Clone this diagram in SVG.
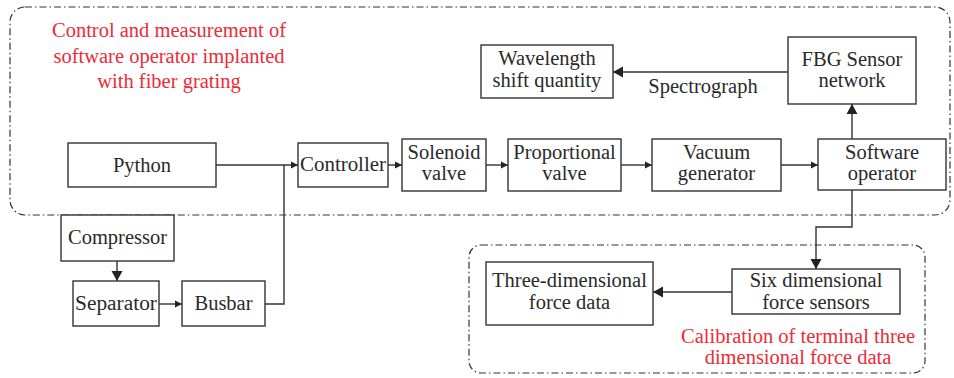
<svg xmlns="http://www.w3.org/2000/svg" width="954" height="378" viewBox="0 0 954 378">
  <style>
    .box { fill: #fff; stroke: #333; stroke-width: 1.4; }
    .zone { fill: none; stroke: #333; stroke-width: 1.2; stroke-dasharray: 7 3 1.5 3; }
    .lbl { font-size: 20.5px; fill: #2a2a2a; text-anchor: middle; }
    .red { fill: #ee2a37; }
    .wire { fill: none; stroke: #333; stroke-width: 1.4; }
  </style>
  <defs>
    <marker id="arr" markerUnits="userSpaceOnUse" markerWidth="8" markerHeight="8" refX="7" refY="4" orient="auto">
      <path d="M0,0.5 L7,4 L0,7.5 Z" fill="#222"/>
    </marker>
    <marker id="arrBig" markerUnits="userSpaceOnUse" markerWidth="12" markerHeight="12" refX="10" refY="6" orient="auto">
      <path d="M0,0.5 L10,6 L0,11.5 Z" fill="#222"/>
    </marker>
  </defs>
  <rect width="954" height="378" fill="#fff"/>

  <g font-family="Liberation Serif, Times New Roman, serif">
  <!-- dash-dot zones -->
  <g id="zone-control">
    <rect class="zone" x="10" y="7" width="940" height="208" rx="15"/>
    <text class="lbl red" x="169" y="37">Control and measurement of</text>
    <text class="lbl red" x="169" y="63">software operator implanted</text>
    <text class="lbl red" x="169" y="88">with fiber grating</text>
  </g>
  <g id="zone-calibration">
    <rect class="zone" x="469" y="245" width="456" height="128" rx="12"/>
    <text class="lbl red" x="798" y="343">Calibration of terminal three</text>
    <text class="lbl red" x="798" y="364">dimensional force data</text>
  </g>

  <!-- connectors -->
  <g id="connectors">
    <path class="wire" d="M216 165 H298" marker-end="url(#arr)"/>
    <path class="wire" d="M265 304 H284 V165"/>
    <path class="wire" d="M388 165 H402" marker-end="url(#arr)"/>
    <path class="wire" d="M486 165 H508" marker-end="url(#arr)"/>
    <path class="wire" d="M621 165 H652" marker-end="url(#arr)"/>
    <path class="wire" d="M781 165 H818" marker-end="url(#arr)"/>
    <path class="wire" d="M852 139 V104" marker-end="url(#arrBig)"/>
    <path class="wire" d="M788 72 H613" marker-end="url(#arrBig)"/>
    <path class="wire" d="M852 190 V227 H816 V269" marker-end="url(#arrBig)"/>
    <path class="wire" d="M732 292 H653" marker-end="url(#arrBig)"/>
    <path class="wire" d="M117 261 V281" marker-end="url(#arrBig)"/>
    <path class="wire" d="M159 304 H182" marker-end="url(#arr)"/>
    <text class="lbl" x="703" y="93">Spectrograph</text>
  </g>

  <!-- nodes -->
  <g id="python">
    <rect class="box" x="68" y="143" width="148" height="44"/>
    <text class="lbl" x="142" y="172">Python</text>
  </g>
  <g id="controller">
    <rect class="box" x="298" y="143" width="90" height="44"/>
    <text class="lbl" x="343" y="171" textLength="86" lengthAdjust="spacingAndGlyphs">Controller</text>
  </g>
  <g id="solenoid-valve">
    <rect class="box" x="402" y="139" width="84" height="52"/>
    <text class="lbl" x="444" y="159">Solenoid</text>
    <text class="lbl" x="444" y="180">valve</text>
  </g>
  <g id="proportional-valve">
    <rect class="box" x="508" y="139" width="113" height="52"/>
    <text class="lbl" x="564.5" y="159">Proportional</text>
    <text class="lbl" x="564.5" y="180">valve</text>
  </g>
  <g id="vacuum-generator">
    <rect class="box" x="652" y="139" width="129" height="52"/>
    <text class="lbl" x="716.5" y="159">Vacuum</text>
    <text class="lbl" x="716.5" y="180">generator</text>
  </g>
  <g id="software-operator">
    <rect class="box" x="818" y="139" width="128" height="51"/>
    <text class="lbl" x="882" y="159">Software</text>
    <text class="lbl" x="882" y="180">operator</text>
  </g>
  <g id="fbg-network">
    <rect class="box" x="788" y="37" width="128" height="67"/>
    <text class="lbl" x="852" y="66">FBG Sensor</text>
    <text class="lbl" x="852" y="87">network</text>
  </g>
  <g id="wavelength-shift">
    <rect class="box" x="481" y="45" width="132" height="53"/>
    <text class="lbl" x="547" y="65">Wavelength</text>
    <text class="lbl" x="547" y="87">shift quantity</text>
  </g>
  <g id="compressor">
    <rect class="box" x="61" y="215" width="113" height="46"/>
    <text class="lbl" x="117.5" y="244">Compressor</text>
  </g>
  <g id="separator">
    <rect class="box" x="73" y="281" width="86" height="45"/>
    <text class="lbl" x="116" y="310" textLength="82" lengthAdjust="spacingAndGlyphs">Separator</text>
  </g>
  <g id="busbar">
    <rect class="box" x="182" y="281" width="83" height="45"/>
    <text class="lbl" x="223.5" y="310">Busbar</text>
  </g>
  <g id="six-dim-sensors">
    <rect class="box" x="732" y="269" width="168" height="45"/>
    <text class="lbl" x="816" y="287">Six dimensional</text>
    <text class="lbl" x="816" y="309">force sensors</text>
  </g>
  <g id="three-dim-data">
    <rect class="box" x="486" y="262" width="167" height="63"/>
    <text class="lbl" x="569.5" y="287">Three-dimensional</text>
    <text class="lbl" x="569.5" y="309">force data</text>
  </g>
  </g>
</svg>
